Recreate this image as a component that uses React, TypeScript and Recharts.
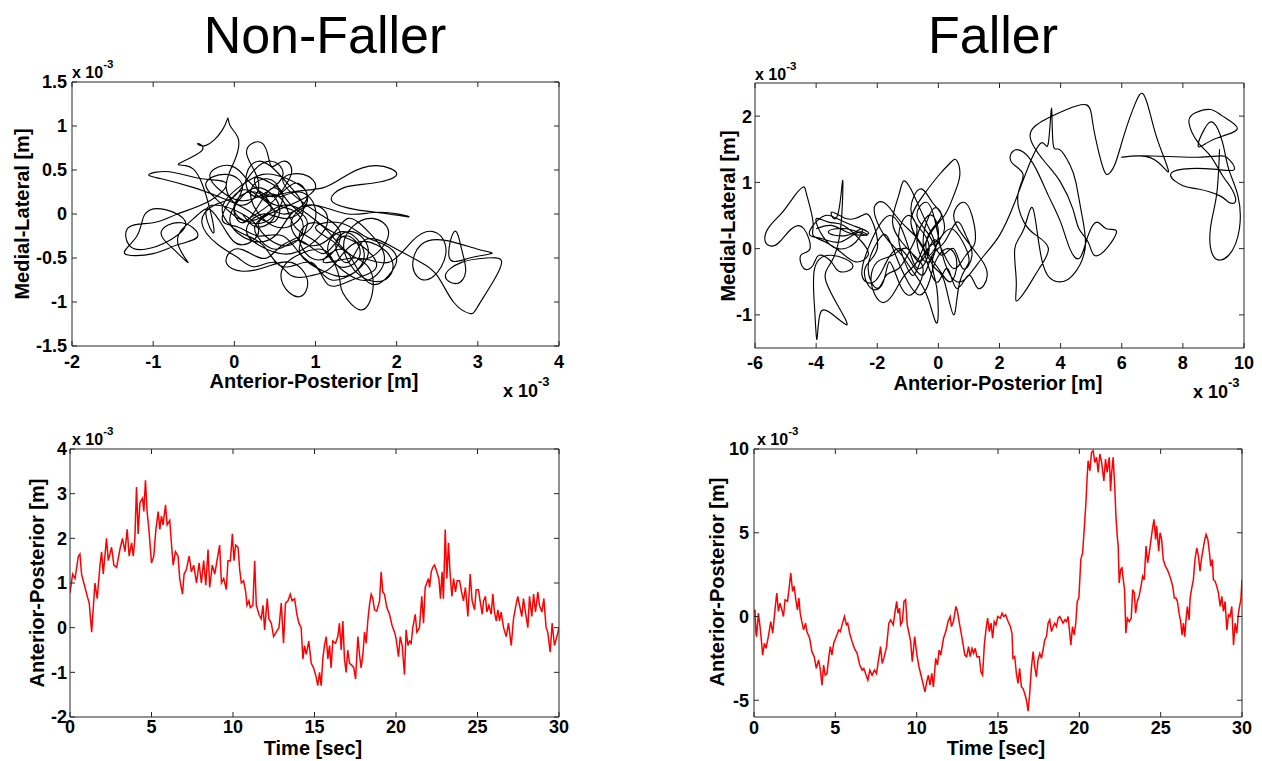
import React from 'react';
import { LineChart, Line, XAxis, YAxis } from 'recharts';

const FONT = '"Liberation Sans", Arial, Helvetica, sans-serif';
const AXIS = '#262626';

// stabilogram of the non-faller: [anterior-posterior, medial-lateral], x 10^-3 m
const nonFallerPath: [number, number][] = [
  [0.1, -0.1], [0.35, 0.05], [0.55, 0.25], [0.4, 0.4], [0.2, 0.25], [0.35, -0.05], [0.65, -0.15], [0.85, 0.05],
  [0.7, 0.3], [0.5, 0.5], [0.3, 0.6], [0.15, 0.45], [0.25, 0.2],
  [0.7, 0.25], [1.1, 0.3], [1.4, 0.45], [1.75, 0.55], [2.0, 0.45], [1.7, 0.35], [1.35, 0.3], [1.2, 0.15],
  [1.5, 0.05], [1.9, 0.0], [2.15, -0.03], [1.8, 0.02], [1.4, 0.0], [1.0, 0.1],
  [0.7, 0.0], [0.5, -0.25], [0.2, -0.3], [-0.05, -0.1], [0.05, 0.15], [0.3, 0.3], [0.55, 0.1], [0.45, -0.1], [0.15, 0.05],
  [-0.2, 0.2], [-0.5, 0.3], [-0.9, 0.4], [-1.05, 0.45], [-0.8, 0.48], [-0.4, 0.4], [-0.1, 0.35], [-0.3, 0.15],
  [-0.7, 0.0], [-1.0, -0.1], [-1.3, -0.15], [-1.3, -0.35], [-1.1, -0.4], [-0.8, -0.3], [-0.6, -0.1], [-0.85, 0.05],
  [-1.1, 0.0], [-1.2, -0.25], [-1.35, -0.45], [-1.0, -0.45], [-0.7, -0.35], [-0.45, -0.25], [-0.65, -0.1], [-0.9, -0.2],
  [-0.75, -0.4], [-0.57, -0.55],
  [-0.7, -0.3], [-0.5, -0.05], [-0.3, 0.05], [-0.1, -0.2], [0.1, -0.35], [0.3, -0.2], [0.1, 0.0], [-0.2, 0.1],
  [-0.35, 0.0], [-0.25, -0.2],
  [-0.4, 0.35], [-0.6, 0.55], [-0.67, 0.58], [-0.4, 0.72], [-0.45, 0.8], [-0.35, 0.78], [-0.15, 0.95], [-0.08, 1.09],
  [-0.05, 1.0], [0.05, 0.85], [0.0, 0.6], [-0.1, 0.3],
  [0.1, 0.1], [0.3, 0.35], [0.15, 0.7], [0.35, 0.8], [0.45, 0.55], [0.6, 0.6], [0.7, 0.45], [0.55, 0.2], [0.8, 0.25],
  [1.0, 0.05], [0.9, -0.2], [0.6, -0.35], [0.4, -0.5], [0.2, -0.45], [0.0, -0.4], [-0.1, -0.55], [0.1, -0.65],
  [0.4, -0.6], [0.7, -0.55], [0.9, -0.75], [0.8, -0.94], [0.6, -0.8], [0.65, -0.55], [1.0, -0.4], [1.2, -0.5],
  [1.3, -0.75], [1.34, -0.9], [1.55, -1.09], [1.7, -0.9], [1.65, -0.6], [1.4, -0.45], [1.2, -0.3], [1.0, -0.15],
  [1.3, -0.1], [1.6, -0.25], [1.85, -0.35], [2.0, -0.5], [1.9, -0.7], [1.7, -0.8], [1.5, -0.6], [1.3, -0.4], [1.1, -0.55],
  [1.5, -0.5], [1.9, -0.55], [2.2, -0.3], [2.45, -0.2], [2.6, -0.35], [2.55, -0.6], [2.35, -0.75], [2.2, -0.6],
  [2.3, -0.35], [2.6, -0.3], [3.0, -0.4], [3.17, -0.45], [2.9, -0.5], [2.65, -0.5], [2.71, -0.2], [2.8, -0.4],
  [2.85, -0.65], [2.74, -0.79], [2.6, -0.7], [2.8, -0.55], [3.1, -0.5], [3.29, -0.53], [3.2, -0.75], [3.0, -1.05],
  [2.9, -1.13], [2.7, -1.0], [2.5, -0.7], [2.3, -0.55], [2.1, -0.45], [1.9, -0.35],
  [1.6, -0.3], [1.4, -0.55], [1.25, -0.35], [1.45, -0.2], [1.65, -0.4], [1.5, -0.65], [1.2, -0.75], [1.0, -0.6],
  [0.8, -0.4], [0.9, -0.1], [0.7, 0.1], [0.5, 0.3], [0.3, 0.1], [0.1, -0.1],
  [0.0, 0.1], [0.25, 0.25], [0.45, 0.05], [0.25, -0.15], [0.5, -0.4], [0.8, -0.3], [1.1, -0.45], [1.35, -0.25],
  [1.55, -0.45], [1.3, -0.6], [1.05, -0.35], [0.75, -0.15], [0.6, 0.15], [0.4, 0.2], [0.6, 0.0], [0.9, 0.2],
  [0.65, 0.4], [0.35, 0.45], [0.05, 0.3], [-0.15, 0.05], [0.05, -0.2], [0.35, -0.35], [0.6, -0.6], [0.95, -0.55],
  [1.15, -0.8], [1.45, -0.75], [1.75, -0.6], [1.55, -0.35], [1.2, -0.2], [0.9, 0.0], [0.6, 0.1], [0.3, -0.05], [0.05, -0.05],
  [-0.2, 0.15], [-0.35, 0.35], [-0.1, 0.45], [0.1, 0.3], [0.0, 0.05], [0.2, -0.1], [0.45, -0.05], [0.6, 0.2],
  [0.45, 0.35], [0.25, 0.4], [0.4, 0.15], [0.7, 0.05], [0.85, -0.15], [0.7, -0.35], [0.45, -0.3], [0.3, -0.1],
  [0.55, 0.05], [0.8, 0.15], [1.0, 0.3], [0.85, 0.45], [0.6, 0.4], [0.75, 0.2], [1.05, 0.0], [1.3, -0.2],
  [1.2, -0.45], [0.95, -0.5], [0.8, -0.25], [1.0, -0.1], [1.25, -0.3], [1.5, -0.5], [1.75, -0.45], [1.9, -0.2],
  [1.7, -0.05], [1.45, -0.15], [1.35, -0.4], [1.55, -0.7], [1.85, -0.75], [1.95, -0.55], [1.75, -0.35], [1.45, -0.35],
  [1.2, -0.6], [0.95, -0.7], [0.7, -0.7], [0.5, -0.55], [0.25, -0.6], [0.05, -0.5], [-0.2, -0.35], [-0.4, -0.1],
  [-0.25, 0.1], [0.0, 0.2], [0.2, 0.45], [0.45, 0.6], [0.6, 0.45], [0.4, 0.25], [0.1, 0.15], [-0.15, 0.25],
  [-0.3, 0.45], [-0.05, 0.55], [0.2, 0.35], [0.5, 0.2], [0.75, 0.35], [0.9, 0.15], [0.65, -0.05], [0.35, 0.0],
  [0.15, -0.2], [0.4, -0.4], [0.7, -0.45], [1.0, -0.3], [1.15, -0.05], [0.95, 0.1], [0.7, -0.1], [0.9, -0.35],
  [1.2, -0.25], [1.4, -0.05], [1.65, -0.2], [1.85, -0.5], [1.65, -0.75], [1.35, -0.65], [1.15, -0.4], [1.35, -0.2],
  [1.6, -0.45], [1.4, -0.7], [1.1, -0.65], [0.85, -0.5], [0.6, -0.25], [0.3, -0.25], [0.05, -0.15], [-0.15, -0.05],
  [0.05, 0.25], [0.3, 0.2], [0.5, 0.0], [0.3, -0.15], [0.1, 0.0],
];

// stabilogram of the faller
const fallerPath: [number, number][] = [
  [-4.0, 0.3], [-3.5, 0.35], [-3.0, 0.25], [-2.5, 0.2], [-2.3, 0.25], [-2.8, 0.35], [-3.3, 0.45], [-3.7, 0.5],
  [-4.1, 0.35], [-4.2, 0.2], [-3.8, 0.15], [-3.2, 0.1], [-2.6, 0.25], [-2.35, 0.2], [-3.0, 0.3], [-3.6, 0.25],
  [-3.0, 0.2], [-2.5, 0.3], [-2.7, 0.1], [-3.3, 0.0], [-3.8, 0.2], [-4.0, 0.45], [-3.6, 0.4], [-3.1, 0.35],
  [-2.5, 0.1], [-2.3, -0.1], [-2.7, -0.2], [-3.2, -0.05], [-3.7, 0.1], [-4.1, 0.2],
  [-4.1, 0.4], [-4.3, 0.8], [-4.42, 0.93], [-4.7, 0.8], [-5.1, 0.55], [-5.5, 0.35], [-5.68, 0.15], [-5.5, 0.04],
  [-5.2, 0.1], [-4.8, 0.3], [-4.4, 0.3],
  [-4.2, 0.0], [-4.5, -0.1], [-4.4, -0.3], [-4.1, -0.25], [-3.9, -0.1], [-3.5, -0.2], [-3.2, -0.35], [-2.8, -0.25],
  [-3.5, -0.1], [-4.05, -0.3], [-4.05, -0.9], [-3.98, -1.37], [-3.9, -1.05], [-3.6, -0.95], [-3.0, -1.15],
  [-3.3, -0.85], [-3.7, -0.45], [-3.5, -0.2],
  [-3.2, 0.3], [-3.13, 1.03], [-3.3, 0.5], [-3.5, 0.55], [-3.0, 0.45], [-2.5, 0.5], [-2.2, 0.45],
  [-2.0, 0.0], [-2.4, -0.3], [-2.2, -0.6], [-1.8, -0.5], [-1.6, -0.2], [-1.3, -0.5], [-1.0, -0.7], [-0.7, -0.6],
  [-0.5, -0.3], [-0.8, -0.1], [-1.2, 0.1], [-1.5, 0.4], [-1.3, 0.8], [-1.14, 1.02], [-0.9, 0.9], [-0.6, 0.6],
  [-0.3, 0.3], [-0.1, 0.0], [-0.4, -0.2], [-0.7, 0.1], [-0.5, 0.4], [-0.2, 0.5], [0.0, 0.2], [-0.2, -0.2],
  [-0.05, -0.6], [-0.04, -1.12], [-0.3, -0.8], [-0.6, -0.5], [-0.9, -0.3], [-1.2, -0.1], [-1.6, 0.1], [-1.9, 0.3],
  [-2.1, 0.6], [-1.8, 0.7], [-1.4, 0.5], [-1.0, 0.3], [-0.6, 0.1], [-0.3, -0.1], [0.0, 0.1], [0.4, 0.3], [0.8, 0.1],
  [1.0, -0.2], [0.7, -0.5], [0.5, -1.0], [0.2, -0.5], [-0.1, -0.3], [-0.5, 0.0], [-0.9, 0.4], [-0.5, 0.8],
  [0.0, 1.1], [0.4, 1.3], [0.6, 1.33], [0.7, 1.1], [0.5, 0.8], [0.2, 0.5], [-0.3, 0.2], [-0.7, -0.2], [-1.1, -0.4],
  [-1.5, -0.7], [-1.9, -0.8], [-2.2, -0.5], [-2.0, -0.2], [-1.5, -0.1], [-1.0, 0.0], [-0.6, -0.2], [-0.2, 0.1],
  [0.1, 0.0], [0.5, -0.3], [0.9, -0.1], [1.2, 0.1], [1.1, 0.5], [0.8, 0.7], [0.5, 0.5], [0.8, 0.2], [1.3, -0.1],
  [1.6, -0.4], [1.3, -0.6], [1.0, -0.4],
  [0.6, -0.6], [0.3, -0.3], [0.0, -0.5], [-0.3, -0.3], [-0.5, 0.1], [-0.3, 0.5], [0.0, 0.6], [0.2, 0.3], [-0.1, 0.1],
  [-0.5, -0.1], [-0.8, -0.4], [-1.1, -0.2], [-1.3, 0.2], [-1.0, 0.5], [-0.7, 0.3], [-0.9, 0.0], [-1.3, -0.3],
  [-1.7, -0.4], [-2.0, -0.6], [-2.3, -0.3], [-2.0, 0.1], [-1.7, 0.2], [-1.4, -0.1], [-1.0, -0.5], [-0.6, -0.7],
  [-0.3, -0.5], [-0.1, -0.2], [0.3, 0.0], [0.6, -0.2], [0.4, -0.5], [0.0, -0.3], [-0.4, 0.0], [-0.2, 0.3], [0.1, 0.5],
  [-0.2, 0.7], [-0.6, 0.9], [-0.9, 0.6], [-0.6, 0.3], [-0.3, 0.0], [-0.6, -0.3], [-0.9, -0.1], [-1.2, 0.3],
  [-1.6, 0.5], [-2.0, 0.3], [-2.3, 0.0], [-2.5, -0.4], [-2.1, -0.5], [-1.7, -0.2], [-1.3, 0.0], [-0.9, -0.2],
  [-0.5, -0.4], [-0.2, -0.1], [0.2, 0.1], [0.6, 0.4], [0.9, 0.2], [1.1, -0.1], [0.8, -0.3], [0.5, 0.0], [0.1, -0.1],
  [-0.3, 0.2], [-0.7, 0.5], [-0.4, 0.7], [-0.1, 0.4], [0.2, -0.2], [0.6, -0.5], [1.0, -0.4],
  [1.5, -0.1], [2.0, 0.2], [2.5, 0.7], [3.0, 1.3], [3.4, 1.6], [3.6, 1.6], [3.7, 2.12], [3.75, 1.6], [3.95, 1.5],
  [4.3, 1.27], [4.5, 1.0], [4.7, 0.5], [4.8, 0.0], [4.4, -0.4], [3.9, -0.5], [3.4, -0.2], [3.1, 0.6], [2.8, 0.3],
  [2.5, 0.0], [2.55, -0.5], [2.55, -0.79], [2.9, -0.6], [3.3, -0.3], [3.6, 0.0], [3.2, 0.2], [2.8, 0.4], [2.6, 0.8],
  [2.77, 1.12], [2.4, 1.3], [2.44, 1.47], [2.8, 1.45], [3.2, 1.2], [3.6, 0.8], [4.0, 0.4], [4.3, 0.0], [4.63, -0.14],
  [4.9, 0.2], [5.2, 0.4], [5.5, 0.3], [5.83, 0.26], [5.5, 0.0], [5.1, -0.1], [4.9, 0.1], [4.6, 0.3], [4.4, 0.6],
  [4.0, 1.0], [3.5, 1.3], [3.0, 1.7], [3.5, 1.95], [4.2, 2.1], [4.85, 2.17], [5.05, 1.9], [5.25, 1.45], [5.45, 1.15],
  [5.6, 1.14], [5.8, 1.3], [6.1, 1.75], [6.45, 2.2], [6.71, 2.33], [6.95, 2.0], [7.2, 1.6], [7.53, 1.17], [7.2, 1.3],
  [6.6, 1.4], [6.0, 1.38], [6.5, 1.4], [7.5, 1.39], [8.5, 1.38], [9.2, 1.4], [9.5, 1.35], [9.67, 1.19], [9.0, 1.2],
  [8.0, 1.2], [7.6, 1.1], [8.0, 0.95], [8.5, 0.9], [9.2, 0.8], [9.5, 0.7], [9.72, 0.71], [9.6, 0.9], [9.3, 1.1],
  [8.9, 1.4], [8.5, 1.6], [8.2, 1.9], [8.41, 2.05], [8.9, 2.1], [9.3, 2.0], [9.78, 1.82], [9.3, 1.7], [8.8, 1.6],
  [8.5, 1.55], [8.7, 1.8], [9.0, 1.9], [9.3, 1.6], [9.5, 1.2], [9.8, 0.8], [9.85, 0.3], [9.5, -0.1], [9.01, -0.12],
  [8.9, 0.3], [9.1, 0.8], [9.2, 1.5],
];

// anterior-posterior over time: [time s, AP x 10^-3 m]
const nonFallerAP: [number, number][] = [
  [0, 0.78], [0.16, 1.2], [0.31, 1.1], [0.51, 1.6], [0.61, 1.65], [0.71, 1.2], [0.92, 0.9], [1.06, 0.7], [1.18, 0.55],
  [1.33, -0.1], [1.53, 1.0], [1.67, 0.65], [1.84, 1.4], [1.94, 1.7], [2.04, 1.2], [2.24, 2.0], [2.35, 1.5], [2.55, 1.8],
  [2.69, 1.4], [2.86, 1.35], [3.06, 1.75], [3.22, 2.0], [3.37, 1.7], [3.51, 2.2], [3.63, 1.6], [3.78, 1.9], [3.88, 1.6],
  [3.98, 2.0], [4.08, 3.15], [4.18, 2.1], [4.29, 2.8], [4.45, 2.9], [4.53, 2.6], [4.63, 3.3], [4.73, 2.6], [4.84, 2.2],
  [5.0, 1.45], [5.14, 1.6], [5.27, 2.2], [5.41, 2.6], [5.51, 2.2], [5.61, 2.5], [5.71, 2.3], [5.86, 2.75], [5.96, 2.3],
  [6.12, 2.4], [6.22, 1.9], [6.33, 1.4], [6.47, 1.7], [6.63, 1.6], [6.73, 1.1], [6.9, 0.75], [7.0, 1.2], [7.14, 1.3],
  [7.31, 1.6], [7.45, 1.25], [7.59, 1.4], [7.76, 1.0], [7.92, 1.45], [8.06, 1.0], [8.2, 1.5], [8.33, 0.95], [8.47, 1.75],
  [8.57, 0.9], [8.73, 1.4], [8.88, 1.2], [9.02, 1.5], [9.18, 1.85], [9.29, 1.0], [9.43, 1.1], [9.59, 0.85], [9.69, 1.5],
  [9.84, 1.5], [9.96, 2.1], [10.06, 1.5], [10.16, 1.85], [10.31, 1.8], [10.41, 1.3], [10.51, 1.0], [10.65, 1.05],
  [10.78, 0.8], [10.86, 0.5], [10.98, 0.6], [11.06, 0.45], [11.22, 0.5], [11.33, 1.5], [11.43, 0.5], [11.59, 0.3],
  [11.73, 0.2], [11.84, 0.5], [11.94, -0.05], [12.1, 0.65], [12.2, 0.2], [12.35, 0.1], [12.49, -0.2], [12.65, -0.1],
  [12.82, 0.0], [12.96, 0.55], [13.1, -0.35], [13.22, 0.55], [13.37, 0.6], [13.51, 0.75], [13.63, 0.6], [13.78, 0.65],
  [13.92, 0.3], [14.04, 0.1], [14.18, 0.0], [14.29, -0.7], [14.39, -0.4], [14.49, -0.6], [14.65, -0.3], [14.8, -0.8],
  [14.94, -0.9], [15.1, -1.1], [15.2, -1.3], [15.31, -1.0], [15.41, -1.3], [15.51, -0.7], [15.61, -0.4], [15.72, -0.2],
  [15.82, -0.7], [15.92, -0.4], [16.02, -0.9], [16.12, -0.3], [16.29, -0.35], [16.43, -0.2], [16.53, 0.1], [16.64, -0.5],
  [16.74, 0.15], [16.84, -0.7], [16.94, -1.0], [17.04, -0.5], [17.15, -0.8], [17.31, -0.85], [17.41, -0.9],
  [17.52, -1.15], [17.66, -0.2], [17.76, -0.6], [17.86, -0.9], [17.97, -0.6], [18.07, -0.1], [18.17, -0.35],
  [18.27, 0.15], [18.37, 0.5], [18.48, 0.75], [18.58, 0.65], [18.68, 0.4], [18.82, 0.37], [18.99, 0.6], [19.09, 1.25],
  [19.19, 0.8], [19.29, 0.75], [19.44, 0.45], [19.6, 0.3], [19.76, 0.05], [19.91, -0.1], [20.01, -0.25], [20.15, -0.65],
  [20.26, -0.2], [20.38, -0.4], [20.52, -1.05], [20.62, -0.05], [20.73, -0.4], [20.83, -0.3], [20.93, -0.35],
  [21.03, 0.0], [21.18, 0.3], [21.28, -0.1], [21.44, 0.0], [21.58, 0.7], [21.69, 0.1], [21.79, 0.9], [21.89, 1.0],
  [21.99, 1.1], [22.06, 0.9], [22.16, 1.25], [22.26, 1.35], [22.36, 1.4], [22.46, 1.3], [22.63, 1.1], [22.73, 0.65],
  [22.83, 1.25], [22.91, 0.65], [23.02, 2.2], [23.12, 1.1], [23.22, 1.9], [23.32, 1.2], [23.43, 0.7], [23.53, 1.1],
  [23.65, 0.8], [23.75, 1.05], [23.9, 1.05], [24.02, 0.8], [24.14, 0.6], [24.26, 0.9], [24.41, 0.25], [24.55, 1.2],
  [24.67, 0.6], [24.82, 0.4], [24.92, 0.85], [25.06, 0.85], [25.16, 0.6], [25.29, 0.3], [25.37, 0.6], [25.49, 0.7],
  [25.57, 0.35], [25.7, 0.5], [25.84, 0.3], [25.94, 0.75], [26.04, 0.35], [26.15, 0.15], [26.25, 0.4], [26.35, 0.15],
  [26.45, 0.35], [26.6, 0.0], [26.76, -0.2], [26.9, 0.1], [27.07, -0.4], [27.21, 0.2], [27.33, 0.45], [27.47, 0.7],
  [27.58, 0.5], [27.72, 0.25], [27.82, 0.65], [27.94, 0.35], [28.09, 0.0], [28.19, 0.7], [28.33, 0.25], [28.44, 0.75],
  [28.56, 0.35], [28.7, 0.8], [28.8, 0.5], [28.95, 0.35], [29.07, 0.65], [29.21, 0.0], [29.31, -0.1], [29.46, -0.55],
  [29.58, 0.1], [29.72, -0.4], [29.87, -0.2], [30.0, 0.0],
];

const fallerAP: [number, number][] = [
  [0, 0.2], [0.06, 0.4], [0.12, -1.0], [0.16, -1.2], [0.27, 0.2], [0.37, -0.6], [0.47, -1.6], [0.53, -2.3], [0.64, -1.6],
  [0.74, -1.9], [0.88, -1.2], [1.03, -0.3], [1.15, -1.0], [1.3, 0.5], [1.4, 1.4], [1.5, 0.3], [1.6, 0.8], [1.71, 0.4],
  [1.81, 0.0], [1.91, 1.0], [2.06, 0.9], [2.16, 1.7], [2.26, 2.6], [2.37, 1.5], [2.47, 1.8], [2.57, 1.0], [2.67, 0.4],
  [2.76, 1.1], [2.84, 0.2], [2.94, -0.3], [3.05, -0.8], [3.17, -0.4], [3.25, -0.9], [3.42, -1.3], [3.56, -2.1],
  [3.7, -2.4], [3.83, -3.1], [3.97, -2.6], [4.07, -3.1], [4.18, -4.1], [4.28, -2.9], [4.38, -3.5], [4.49, -3.4],
  [4.59, -2.5], [4.69, -1.8], [4.79, -2.3], [4.9, -1.6], [5.06, -1.2], [5.21, -0.8], [5.31, -0.9], [5.41, -0.5],
  [5.56, 0.0], [5.68, -0.5], [5.76, -0.4], [5.88, -1.0], [6.03, -1.5], [6.17, -1.9], [6.34, -2.2], [6.5, -2.9],
  [6.65, -3.2], [6.75, -3.1], [6.89, -3.5], [7.0, -3.8], [7.12, -3.2], [7.26, -3.5], [7.41, -3.2], [7.53, -3.4],
  [7.67, -2.5], [7.78, -1.8], [7.88, -2.8], [7.98, -2.5], [8.15, -1.8], [8.29, -0.4], [8.4, -0.2], [8.56, -0.5],
  [8.66, 0.2], [8.77, 0.9], [8.85, 0.2], [8.95, 0.5], [9.01, -0.5], [9.12, -0.3], [9.22, 0.9], [9.32, 1.0],
  [9.42, -0.5], [9.53, -1.0], [9.63, -1.5], [9.73, -2.7], [9.88, -1.2], [10.0, -2.2], [10.14, -3.0], [10.29, -3.6],
  [10.41, -4.1], [10.51, -4.5], [10.62, -3.9], [10.72, -3.5], [10.82, -4.1], [10.93, -3.4], [11.03, -4.2],
  [11.17, -2.5], [11.28, -2.9], [11.38, -2.0], [11.48, -2.3], [11.65, -1.3], [11.79, -0.9], [11.93, -0.3],
  [12.06, 0.0], [12.14, -0.6], [12.26, -0.3], [12.41, 0.6], [12.51, 0.3], [12.61, -0.3], [12.72, -0.9], [12.86, -1.7],
  [12.96, -2.3], [13.07, -2.4], [13.19, -1.8], [13.29, -2.4], [13.4, -1.9], [13.5, -2.2], [13.6, -1.9], [13.7, -2.4],
  [13.85, -2.4], [13.95, -3.3], [14.05, -3.5], [14.16, -1.7], [14.26, -0.8], [14.36, -0.1], [14.47, -0.9],
  [14.57, -0.4], [14.67, -1.3], [14.77, -0.3], [14.88, -0.5], [14.98, 0.0], [15.14, -0.1], [15.25, 0.2], [15.35, 0.0],
  [15.47, 0.1], [15.62, -0.3], [15.76, -0.6], [15.86, -1.0], [15.92, -2.5], [16.03, -2.4], [16.13, -3.4], [16.23, -4.0],
  [16.33, -3.1], [16.44, -4.2], [16.54, -4.3], [16.64, -4.6], [16.75, -5.0], [16.85, -5.65], [16.95, -4.6],
  [17.05, -3.1], [17.16, -2.1], [17.26, -3.0], [17.36, -3.6], [17.46, -2.6], [17.57, -2.2], [17.67, -2.5],
  [17.77, -2.0], [17.87, -1.4], [17.98, -1.2], [18.08, -0.4], [18.18, -0.2], [18.29, -0.9], [18.39, -0.6],
  [18.49, -0.4], [18.59, -0.6], [18.7, -0.1], [18.8, 0.0], [18.9, -0.2], [19.0, -0.4], [19.11, -0.2], [19.21, -0.3],
  [19.31, 0.0], [19.41, -1.0], [19.48, -1.7], [19.58, -0.6], [19.68, -1.1], [19.78, -0.4], [19.87, 0.9], [19.97, 1.1],
  [20.03, 2.2], [20.09, 3.4], [20.2, 3.8], [20.3, 5.2], [20.4, 6.7], [20.48, 8.3], [20.54, 9.3], [20.65, 8.7],
  [20.75, 9.8], [20.85, 9.9], [20.95, 9.2], [21.06, 9.5], [21.16, 8.6], [21.26, 9.7], [21.37, 9.2], [21.51, 8.1],
  [21.61, 9.4], [21.71, 8.6], [21.84, 9.5], [21.92, 7.5], [21.98, 8.5], [22.08, 9.5], [22.17, 7.9], [22.25, 6.0],
  [22.33, 4.8], [22.39, 4.2], [22.45, 2.0], [22.54, 2.8], [22.62, 2.9], [22.7, 2.2], [22.78, 1.6], [22.86, -1.0],
  [22.95, -0.1], [23.07, -0.3], [23.19, -0.1], [23.28, 1.6], [23.38, 1.4], [23.46, 0.2], [23.56, 0.9], [23.67, 1.2],
  [23.79, 1.8], [23.89, 2.4], [23.99, 2.2], [24.1, 4.2], [24.2, 3.2], [24.3, 3.8], [24.38, 4.4], [24.49, 5.2],
  [24.59, 5.8], [24.69, 4.6], [24.75, 5.4], [24.88, 3.9], [24.96, 5.0], [25.06, 4.6], [25.16, 3.4], [25.29, 3.0],
  [25.41, 2.8], [25.53, 2.5], [25.66, 2.1], [25.74, 1.8], [25.84, 1.1], [25.94, 1.1], [26.03, 0.9], [26.13, 0.2],
  [26.23, -0.3], [26.31, -1.1], [26.4, -0.4], [26.48, -1.2], [26.56, -0.2], [26.64, 0.6], [26.75, -0.2], [26.81, 1.1],
  [26.91, 1.7], [27.01, 2.2], [27.11, 3.4], [27.22, 4.1], [27.32, 3.6], [27.42, 2.7], [27.5, 3.4], [27.59, 3.9],
  [27.69, 4.5], [27.79, 4.9], [27.9, 4.6], [28.0, 3.8], [28.08, 3.0], [28.18, 3.4], [28.24, 2.2], [28.35, 2.1],
  [28.45, 1.8], [28.55, 1.4], [28.66, 0.6], [28.76, 1.2], [28.86, 0.3], [28.96, 0.9], [29.07, -0.8], [29.17, 0.1],
  [29.27, 0.0], [29.37, 0.6], [29.48, -1.7], [29.58, -0.4], [29.68, -1.0], [29.78, 0.2], [29.85, 0.6], [29.93, 1.0],
  [30.0, 2.2],
];

const nfXTicks = [-2, -1, 0, 1, 2, 3, 4];
const nfYTicks = [-1.5, -1, -0.5, 0, 0.5, 1, 1.5];
const fXTicks = [-6, -4, -2, 0, 2, 4, 6, 8, 10];
const fYTicks = [-1, 0, 1, 2];
const timeTicks = [0, 5, 10, 15, 20, 25, 30];
const nfAPTicks = [-2, -1, 0, 1, 2, 3, 4];
const fAPTicks = [-5, 0, 5, 10];

type Box = { l: number; t: number; r: number; b: number };

const tickStyle = { fill: '#000', fontSize: 18, fontWeight: 700, fontFamily: FONT };
const blank = () => '';

function Panel(props: {
  box: Box;
  points: [number, number][];
  xDomain: [number, number];
  yDomain: [number, number];
  xTicks: number[];
  yTicks: number[];
  color: string;
  curve: 'natural' | 'linear';
  lineWidth: number;
  xGap: number;
  yGap: number;
}) {
  const { box, points, xDomain, yDomain, xTicks, yTicks, color, curve, lineWidth, xGap, yGap } = props;
  const data = points.map(([x, y]) => ({ x, y }));
  return (
    <div style={{ position: 'absolute', left: box.l - 70, top: box.t - 30 }}>
      <LineChart
        width={box.r - box.l + 90}
        height={box.b - box.t + 90}
        data={data}
        margin={{ top: 29, right: 19, bottom: 0, left: 0 }}
      >
        <XAxis dataKey="x" type="number" domain={xDomain} ticks={xTicks} interval={0} allowDataOverflow
          height={60} tickSize={-5} tickMargin={xGap + 5} tick={tickStyle} stroke={AXIS} />
        <XAxis xAxisId="top" orientation="top" dataKey="x" type="number" domain={xDomain} ticks={xTicks} interval={0}
          allowDataOverflow height={1} tickSize={-5} tickFormatter={blank} stroke={AXIS} />
        <YAxis type="number" domain={yDomain} ticks={yTicks} interval={0} allowDataOverflow
          width={70} tickSize={-5} tickMargin={yGap + 5} tick={tickStyle} stroke={AXIS} />
        <YAxis yAxisId="right" orientation="right" type="number" domain={yDomain} ticks={yTicks} interval={0}
          allowDataOverflow width={1} tickSize={-5} tickFormatter={blank} stroke={AXIS} />
        <Line dataKey="y" type={curve} stroke={color} strokeWidth={lineWidth} dot={false} isAnimationActive={false} />
      </LineChart>
    </div>
  );
}

function Exp({ x, y, size }: { x: number; y: number; size: number }) {
  return (
    <text x={x} y={y} fontSize={size} fontWeight={700} fontFamily={FONT} fill="#000">
      x 10<tspan dy={-size * 0.62} fontSize={size * 0.72}>-3</tspan>
    </text>
  );
}

function YLabel({ x, y, text }: { x: number; y: number; text: string }) {
  return (
    <text x={x} y={y} transform={`rotate(-90 ${x} ${y})`} textAnchor="middle" dominantBaseline="central"
      fontSize={20} fontWeight={700} fontFamily={FONT} fill="#000">{text}</text>
  );
}

function XLabel({ x, y, text }: { x: number; y: number; text: string }) {
  return (
    <text x={x} y={y} textAnchor="middle" fontSize={20} fontWeight={700} fontFamily={FONT} fill="#000">{text}</text>
  );
}

export default function App() {
  return (
    <div style={{ position: 'absolute', left: 0, top: 0, width: 1262, height: 761, background: '#fff', overflow: 'hidden' }}>
      <Panel box={{ l: 72, t: 82, r: 559, b: 346 }} points={nonFallerPath} xDomain={[-2, 4]} yDomain={[-1.5, 1.5]}
        xTicks={nfXTicks} yTicks={nfYTicks} color="#000" curve="natural" lineWidth={1.15} xGap={9} yGap={5} />
      <Panel box={{ l: 755, t: 83, r: 1244, b: 348 }} points={fallerPath} xDomain={[-6, 10]} yDomain={[-1.5, 2.5]}
        xTicks={fXTicks} yTicks={fYTicks} color="#000" curve="natural" lineWidth={1.15} xGap={8} yGap={3} />
      <Panel box={{ l: 70, t: 449, r: 559, b: 717 }} points={nonFallerAP} xDomain={[0, 30]} yDomain={[-2, 4]}
        xTicks={timeTicks} yTicks={nfAPTicks} color="#ff0000" curve="linear" lineWidth={1.5} xGap={3} yGap={3} />
      <Panel box={{ l: 754, t: 449, r: 1242, b: 717 }} points={fallerAP} xDomain={[0, 30]} yDomain={[-6, 10]}
        xTicks={timeTicks} yTicks={fAPTicks} color="#ff0000" curve="linear" lineWidth={1.5} xGap={4} yGap={5} />
      <svg width={1262} height={761} style={{ position: 'absolute', left: 0, top: 0, pointerEvents: 'none' }}>
        <text x={325} y={53} textAnchor="middle" fontSize={52} fontFamily={FONT} fill="#000">Non-Faller</text>
        <text x={993} y={53} textAnchor="middle" fontSize={52} fontFamily={FONT} fill="#000">Faller</text>

        <YLabel x={22} y={214} text="Medial-Lateral [m]" />
        <XLabel x={314} y={388} text="Anterior-Posterior [m]" />
        <Exp x={72} y={78} size={16} />
        <Exp x={503} y={397} size={18} />

        <YLabel x={728} y={216} text="Medial-Lateral [m]" />
        <XLabel x={998} y={390} text="Anterior-Posterior [m]" />
        <Exp x={755} y={80} size={16} />
        <Exp x={1193} y={398} size={18} />

        <YLabel x={37} y={583} text="Anterior-Posterior [m]" />
        <XLabel x={313} y={755} text="Time [sec]" />
        <Exp x={72} y={445} size={16} />

        <YLabel x={717} y={582} text="Anterior-Posterior [m]" />
        <XLabel x={996} y={755} text="Time [sec]" />
        <Exp x={757} y={445} size={16} />
      </svg>
    </div>
  );
}
